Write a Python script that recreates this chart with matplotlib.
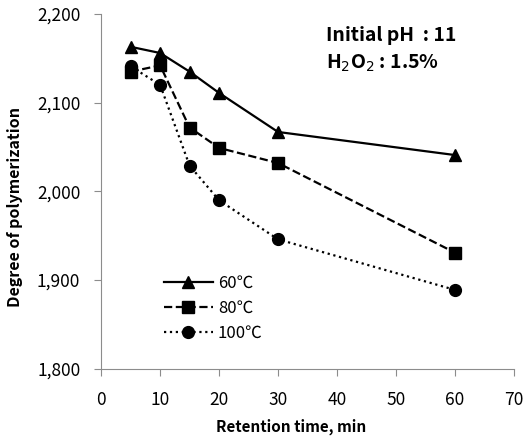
import numpy as np
import matplotlib
matplotlib.use('Agg')
import matplotlib.pyplot as plt
from matplotlib.ticker import FuncFormatter

plt.rcParams['font.family'] = ['Noto Sans CJK KR', 'DejaVu Sans']
plt.rcParams['axes.unicode_minus'] = False

# retention time, min
time = [5, 10, 15, 20, 30, 60]

# degree of polymerization
dp_60 = [2163, 2156, 2135, 2111, 2067, 2041]
dp_80 = [2135, 2142, 2072, 2049, 2032, 1931]
dp_100 = [2141, 2120, 2029, 1990, 1946, 1889]

labels = ['60℃', '80℃', '100℃']

fig = plt.figure(figsize=(5.27, 4.37), dpi=100)
ax = fig.add_axes([0.192, 0.156, 0.783, 0.812])

ax.plot(time, dp_60, '-', color='black', lw=1.6, marker='^', ms=8.5, label=labels[0])
ax.plot(time, dp_80, '--', color='black', lw=1.6, marker='s', ms=8.5, label=labels[1])
ax.plot(time, dp_100, ':', color='black', lw=1.6, marker='o', ms=8.5, label=labels[2])

ax.set_xlim(0, 70)
ax.set_ylim(1800, 2200)
ax.set_xticks(np.arange(0, 71, 10))
ax.set_yticks(np.arange(1800, 2201, 100))
ax.yaxis.set_major_formatter(FuncFormatter(lambda v, p: f'{int(v):,}'))

for s in ['top', 'right']:
    ax.spines[s].set_visible(False)
for s in ['left', 'bottom']:
    ax.spines[s].set_color('#8c8c8c')
ax.tick_params(direction='out', length=5, color='#8c8c8c', labelsize=12.5)
ax.tick_params(axis='x', pad=11)
ax.tick_params(axis='y', pad=10)

ax.set_xlabel('Retention time, min', fontsize=11, fontweight='bold')
ax.xaxis.set_label_coords(0.461, -0.14)
ax.set_ylabel('Degree of polymerization', fontsize=11.5, fontweight='bold')
ax.yaxis.set_label_coords(-0.19, 0.455)

ax.legend(loc='lower left', bbox_to_anchor=(0.115, 0.033), frameon=False,
          fontsize=12, handlelength=2.95, handletextpad=0.3, labelspacing=0.5)

ax.text(0.545, 0.925, 'Initial pH  : 11', transform=ax.transAxes,
        fontsize=14, fontweight='bold')
ax.text(0.545, 0.845, 'H$_2$O$_2$ : 1.5%', transform=ax.transAxes,
        fontsize=14, fontweight='bold')

plt.savefig('out.png', dpi=100)
